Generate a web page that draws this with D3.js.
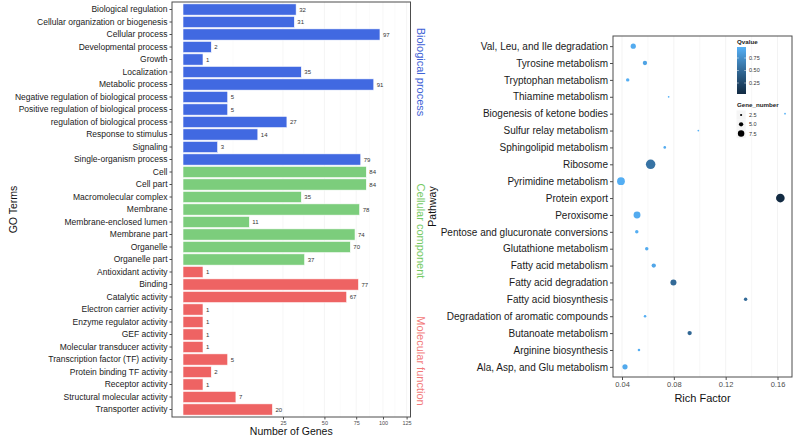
<!DOCTYPE html>
<html>
<head>
<meta charset="utf-8">
<script src="https://cdn.jsdelivr.net/npm/d3@7"></script>
<style>
body { margin: 0; background: #fff; }
svg { display: block; font-family: "Liberation Sans", Arial, sans-serif; }
</style>
</head>
<body>
<svg id="chart" width="795" height="438"></svg>
<script>
// ---- data : GO bar chart (left)
var goTerms = [
	"Biological regulation", "Cellular organization or biogenesis", "Cellular process",
	"Developmental process", "Growth", "Localization", "Metabolic process",
	"Negative regulation of biological process", "Positive regulation of biological process",
	"regulation of biological process", "Response to stimulus", "Signaling",
	"Single-organism process",
	"Cell", "Cell part", "Macromolecular complex", "Membrane", "Membrane-enclosed lumen",
	"Membrane part", "Organelle", "Organelle part",
	"Antioxidant activity", "Binding", "Catalytic activity", "Electron carrier activity",
	"Enzyme regulator activity", "GEF activity", "Molecular transducer activity",
	"Transcription factor (TF) activity", "Protein binding TF activity", "Receptor activity",
	"Structural molecular activity", "Transporter activity"
];
var goCounts = [32, 31, 97, 2, 1, 35, 91, 5, 5, 27, 14, 3, 79,
	84, 84, 35, 78, 11, 74, 70, 37,
	1, 77, 67, 1, 1, 1, 1, 5, 2, 1, 7, 20];
var goGroup = ["BP","BP","BP","BP","BP","BP","BP","BP","BP","BP","BP","BP","BP",
	"CC","CC","CC","CC","CC","CC","CC","CC",
	"MF","MF","MF","MF","MF","MF","MF","MF","MF","MF","MF","MF"];
var groupLabels = ["Biological process", "Cellular component", "Molecular function"];
var groupKeys = ["BP", "CC", "MF"];
var countTicks = [25, 50, 75, 100, 125];

// ---- data : KEGG bubble chart (right)
var pathways = [
	"Val, Leu, and Ile degradation", "Tyrosine metabolism", "Tryptophan metabolism",
	"Thiamine metabolism", "Biogenesis of ketone bodies", "Sulfur relay metabolism",
	"Sphingolipid metabolism", "Ribosome", "Pyrimidine metabolism", "Protein export",
	"Peroxisome", "Pentose and glucuronate conversions", "Glutathione metabolism",
	"Fatty acid metabolism", "Fatty acid degradation", "Fatty acid biosynthesis",
	"Degradation of aromatic compounds", "Butanoate metabolism", "Arginine biosynthesis",
	"Ala, Asp, and Glu metabolism"
];
var richFactor = [0.0487, 0.0577, 0.0444, 0.0760, 0.1658, 0.0989, 0.0730, 0.0621, 0.0392, 0.1622,
	0.0516, 0.0514, 0.0591, 0.0645, 0.0797, 0.1354, 0.0578, 0.0922, 0.0531, 0.0423];
var geneNumber = [6, 5, 4, 2, 2, 2, 3, 11, 9, 10, 8, 4, 4, 5, 7, 4, 3, 5, 3, 6];
var qValue = [0.93, 0.88, 0.95, 0.97, 0.97, 0.97, 0.93, 0.56, 0.95, 0.03,
	0.93, 0.95, 0.93, 0.90, 0.50, 0.50, 0.95, 0.48, 0.95, 0.92];
var richTicks = [0.04, 0.08, 0.12, 0.16];
var qTicks = [0.25, 0.50, 0.75];
var sizeBreaks = [2.5, 5.0, 7.5];

////
var Config = {
	bars: { left: 172, right: 410.5, top: 2, bottom: 417, zero: 183, at125: 406.6 },
	dots: { left: 613, right: 792, top: 36, bottom: 377 },
	colors: {
		BP: "#4169E1", CC: "#7CCD7C", MF: "#EE6363",
		stripBP: "#3E62D6", stripCC: "#74C963", stripMF: "#F27A7A",
		border: "#4d4d4d", grid: "#f0f0f0", tick: "#4d4d4d",
		qLow: "#132B43", qHigh: "#56B1F7"
	}
};

var svg = d3.select("#chart");

// ================= left : GO terms =================
var B = Config.bars;
var xCount = d3.scaleSqrt().domain([0, 125]).range([B.zero, B.at125]);
var yTerm = d3.scaleBand().domain(goTerms).range([B.top, B.bottom])
	.paddingInner(0.1).paddingOuter(0.15);

var gL = svg.append("g");

// grid (major + minor in sqrt space)
var majorX = countTicks.map(function(t){ return xCount(t); });
var minorEdges = [B.zero].concat(majorX);
var minorX = [];
for (var i = 0; i < minorEdges.length - 1; ++i) minorX.push((minorEdges[i] + minorEdges[i+1]) / 2);
gL.selectAll("line.minor").data(minorX).enter().append("line")
	.attr("x1", function(d){ return d; }).attr("x2", function(d){ return d; })
	.attr("y1", B.top).attr("y2", B.bottom)
	.attr("stroke", "#f6f6f6").attr("stroke-width", 0.5);
gL.selectAll("line.major").data(majorX).enter().append("line")
	.attr("x1", function(d){ return d; }).attr("x2", function(d){ return d; })
	.attr("y1", B.top).attr("y2", B.bottom)
	.attr("stroke", Config.colors.grid).attr("stroke-width", 0.7);

// bars
gL.selectAll("rect.bar").data(goTerms).enter().append("rect")
	.attr("x", xCount(0))
	.attr("y", function(d){ return yTerm(d); })
	.attr("width", function(d, i){ return xCount(goCounts[i]) - xCount(0); })
	.attr("height", yTerm.bandwidth())
	.attr("fill", function(d, i){ return Config.colors[goGroup[i]]; })
	.attr("stroke", "#ffffff").attr("stroke-width", 0.6);

// value labels
gL.selectAll("text.val").data(goTerms).enter().append("text")
	.attr("x", function(d, i){ return xCount(goCounts[i]) + 3; })
	.attr("y", function(d){ return yTerm(d) + yTerm.bandwidth() / 2; })
	.attr("dy", "0.35em")
	.attr("font-size", 6).attr("fill", "#333")
	.text(function(d, i){ return goCounts[i]; });

// panel border
gL.append("rect").attr("x", B.left).attr("y", B.top)
	.attr("width", B.right - B.left).attr("height", B.bottom - B.top)
	.attr("fill", "none").attr("stroke", Config.colors.border).attr("stroke-width", 1);

// y axis
var yAxisL = d3.axisLeft(yTerm).tickSize(2.5).tickPadding(2);
var gyL = gL.append("g").attr("transform", "translate(" + B.left + ",0)").call(yAxisL);
gyL.select(".domain").remove();
gyL.selectAll("line").attr("stroke", Config.colors.tick);
gyL.selectAll("text").attr("font-size", 8.5).attr("fill", "#1a1a1a")
	.attr("font-family", "Liberation Sans, Arial, sans-serif");

// x axis
var xAxisL = d3.axisBottom(xCount).tickValues(countTicks).tickSize(2.5).tickPadding(1.5);
var gxL = gL.append("g").attr("transform", "translate(0," + B.bottom + ")").call(xAxisL);
gxL.select(".domain").remove();
gxL.selectAll("line").attr("stroke", Config.colors.tick);
gxL.selectAll("text").attr("font-size", 5.5).attr("fill", Config.colors.tick)
	.attr("font-family", "Liberation Sans, Arial, sans-serif");

// titles
gL.append("text").attr("x", (B.left + B.right) / 2).attr("y", 435)
	.attr("text-anchor", "middle").attr("font-size", 10.5).attr("fill", "#111")
	.text("Number of Genes");
gL.append("text").attr("transform", "translate(13," + ((B.top + B.bottom) / 2) + ") rotate(-90)")
	.attr("text-anchor", "middle").attr("dy", "0.35em").attr("font-size", 10.5).attr("fill", "#111")
	.text("GO Terms");

// group labels on the right side
var stripY = [72, 231, 361];
var stripCol = [Config.colors.stripBP, Config.colors.stripCC, Config.colors.stripMF];
groupLabels.forEach(function(lab, i){
	gL.append("text")
		.attr("transform", "translate(420.5," + stripY[i] + ") rotate(90)")
		.attr("text-anchor", "middle").attr("dy", "0.35em")
		.attr("font-size", 11).attr("fill", stripCol[i])
		.text(lab);
});

// ================= right : pathways =================
var D = Config.dots;
var xRich = d3.scaleLinear().domain([0.04, 0.16]).range([622, 777.5]);
var yPath = d3.scalePoint().domain(pathways).range([D.top, D.bottom]).padding(0.6);
var rGene = d3.scaleLinear().domain([0, 11]).range([0, 4.75]);
var qMin = d3.min(qValue), qMax = d3.max(qValue);
var qColor = d3.scaleLinear().domain([qMin, qMax])
	.range([Config.colors.qLow, Config.colors.qHigh]).interpolate(d3.interpolateLab);

var gR = svg.append("g");

var minorRich = [0.06, 0.10, 0.14];
gR.selectAll("line.minor").data(minorRich).enter().append("line")
	.attr("x1", function(d){ return xRich(d); }).attr("x2", function(d){ return xRich(d); })
	.attr("y1", D.top).attr("y2", D.bottom)
	.attr("stroke", "#f4f4f4").attr("stroke-width", 0.6);
gR.selectAll("line.major").data(richTicks).enter().append("line")
	.attr("x1", function(d){ return xRich(d); }).attr("x2", function(d){ return xRich(d); })
	.attr("y1", D.top).attr("y2", D.bottom)
	.attr("stroke", Config.colors.grid).attr("stroke-width", 0.8);

gR.selectAll("circle.pt").data(pathways).enter().append("circle")
	.attr("cx", function(d, i){ return xRich(richFactor[i]); })
	.attr("cy", function(d){ return yPath(d); })
	.attr("r", function(d, i){ return rGene(geneNumber[i]); })
	.attr("fill", function(d, i){ return qColor(qValue[i]); });

gR.append("rect").attr("x", D.left).attr("y", D.top)
	.attr("width", D.right - D.left).attr("height", D.bottom - D.top)
	.attr("fill", "none").attr("stroke", Config.colors.border).attr("stroke-width", 1);

var yAxisR = d3.axisLeft(yPath).tickSize(3).tickPadding(2);
var gyR = gR.append("g").attr("transform", "translate(" + D.left + ",0)").call(yAxisR);
gyR.select(".domain").remove();
gyR.selectAll("line").attr("stroke", Config.colors.tick);
gyR.selectAll("text").attr("font-size", 10).attr("fill", "#1a1a1a")
	.attr("font-family", "Liberation Sans, Arial, sans-serif");

var xAxisR = d3.axisBottom(xRich).tickValues(richTicks).tickSize(3).tickPadding(2)
	.tickFormat(d3.format(".2f"));
var gxR = gR.append("g").attr("transform", "translate(0," + D.bottom + ")").call(xAxisR);
gxR.select(".domain").remove();
gxR.selectAll("line").attr("stroke", Config.colors.tick);
gxR.selectAll("text").attr("font-size", 7.5).attr("fill", Config.colors.tick)
	.attr("font-family", "Liberation Sans, Arial, sans-serif");

gR.append("text").attr("x", (D.left + D.right) / 2).attr("y", 402)
	.attr("text-anchor", "middle").attr("font-size", 11).attr("fill", "#111")
	.text("Rich Factor");
gR.append("text").attr("transform", "translate(432," + ((D.top + D.bottom) / 2) + ") rotate(-90)")
	.attr("text-anchor", "middle").attr("dy", "0.35em").attr("font-size", 10.5).attr("fill", "#111")
	.text("Pathway");

// ---- legends
var legX = 737;
var gLeg = gR.append("g");
gLeg.append("text").attr("x", legX).attr("y", 44).attr("font-size", 6.2)
	.attr("font-weight", "bold").attr("fill", "#222").text("Qvalue");

var barTop = 47, barBot = 94, barW = 9;
var qY = d3.scaleLinear().domain([qMin, qMax]).range([barBot, barTop]);
var grad = svg.append("defs").append("linearGradient").attr("id", "qgrad")
	.attr("x1", 0).attr("y1", 1).attr("x2", 0).attr("y2", 0);
d3.range(0, 1.0001, 0.1).forEach(function(t){
	grad.append("stop").attr("offset", t).attr("stop-color", qColor(qMin + t * (qMax - qMin)));
});
gLeg.append("rect").attr("x", legX).attr("y", barTop).attr("width", barW)
	.attr("height", barBot - barTop).attr("fill", "url(#qgrad)");
qTicks.forEach(function(t){
	var y = qY(t);
	gLeg.append("line").attr("x1", legX).attr("x2", legX + 1.8).attr("y1", y).attr("y2", y)
		.attr("stroke", "#fff").attr("stroke-width", 0.5);
	gLeg.append("line").attr("x1", legX + barW - 1.8).attr("x2", legX + barW).attr("y1", y).attr("y2", y)
		.attr("stroke", "#fff").attr("stroke-width", 0.5);
	gLeg.append("text").attr("x", legX + 12).attr("y", y).attr("dy", "0.35em")
		.attr("font-size", 5.5).attr("fill", "#333").text(d3.format(".2f")(t));
});

gLeg.append("text").attr("x", legX).attr("y", 107).attr("font-size", 6.2)
	.attr("font-weight", "bold").attr("fill", "#222").text("Gene_number");
var keyY = [115, 124.3, 133.6];
sizeBreaks.forEach(function(s, i){
	gLeg.append("rect").attr("x", legX - 0.5).attr("y", keyY[i] - 4.6).attr("width", 9.2).attr("height", 9.2)
		.attr("fill", "#f5f5f5");
	gLeg.append("circle").attr("cx", legX + 4.1).attr("cy", keyY[i]).attr("r", rGene(s)).attr("fill", "#000");
	gLeg.append("text").attr("x", legX + 12).attr("y", keyY[i]).attr("dy", "0.35em")
		.attr("font-size", 5.5).attr("fill", "#333").text(d3.format(".1f")(s));
});
</script>
</body>
</html>
